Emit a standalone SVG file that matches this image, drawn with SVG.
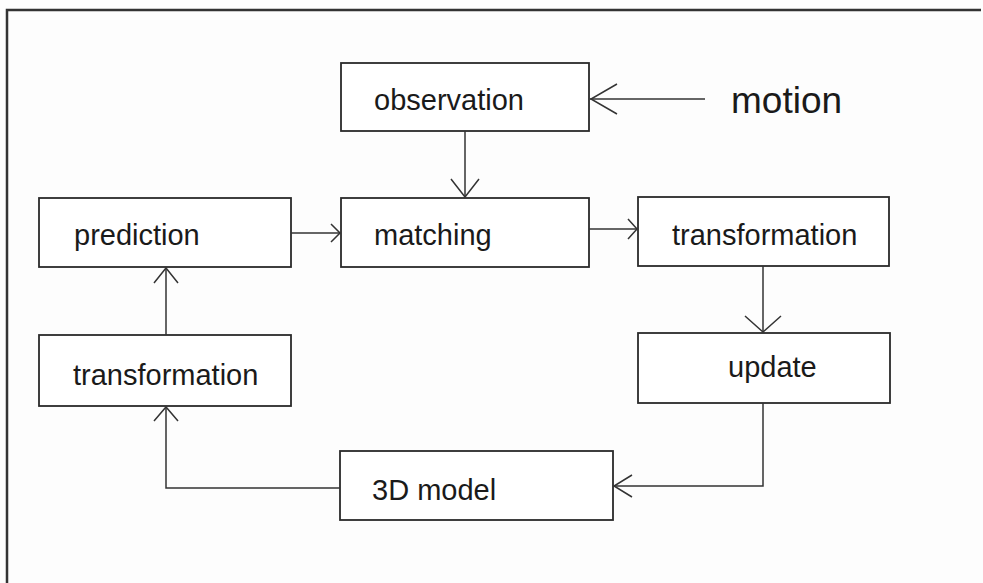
<svg xmlns="http://www.w3.org/2000/svg" width="983" height="583" viewBox="0 0 983 583">
<style>
.box{fill:#fff;stroke:#2a2a2a;stroke-width:1.8}
.lbl{font-family:"Liberation Sans",Arial,sans-serif;font-size:29px;fill:#1a1a1a}
.big{font-size:37px}
.ln{fill:none;stroke:#333;stroke-width:1.5}
.head{fill:none;stroke:#333;stroke-width:1.5;stroke-linejoin:miter}
.frame{fill:none;stroke:#333;stroke-width:2.5}
</style>
<rect x="0" y="0" width="983" height="583" fill="#fdfdfd"/>
<path class="frame" d="M7,583 V10 H981"/>
<g id="observation">
<rect class="box" x="341" y="63" width="248" height="68"/>
<text class="lbl" x="374" y="110">observation</text>
</g>
<g id="motion">
<text class="lbl big" x="731" y="113">motion</text>
</g>
<g id="prediction">
<rect class="box" x="39" y="198" width="252" height="69"/>
<text class="lbl" x="74" y="245">prediction</text>
</g>
<g id="matching">
<rect class="box" x="341" y="198" width="248" height="69"/>
<text class="lbl" x="374" y="245">matching</text>
</g>
<g id="transformation-right">
<rect class="box" x="638" y="197" width="251" height="69"/>
<text class="lbl" x="672" y="245">transformation</text>
</g>
<g id="update">
<rect class="box" x="638" y="333" width="252" height="70"/>
<text class="lbl" x="728" y="377">update</text>
</g>
<g id="transformation-left">
<rect class="box" x="39" y="335" width="252" height="71"/>
<text class="lbl" x="73" y="385">transformation</text>
</g>
<g id="model3d">
<rect class="box" x="340" y="451" width="273" height="69"/>
<text class="lbl" x="372" y="500">3D model</text>
</g>
<g id="connectors">
<line class="ln" x1="705" y1="99" x2="590" y2="99"/>
<polyline class="head" points="617,84 591,99 617,114"/>
<line class="ln" x1="465" y1="131" x2="465" y2="197"/>
<polyline class="head" points="451,179 465,197 479,179"/>
<line class="ln" x1="291" y1="233" x2="340" y2="233"/>
<polyline class="head" points="331,224 340,233 331,242"/>
<line class="ln" x1="589" y1="229" x2="637" y2="229"/>
<polyline class="head" points="628,219 637,229 628,239"/>
<line class="ln" x1="763" y1="266" x2="763" y2="332"/>
<polyline class="head" points="745,316 763,332 781,316"/>
<polyline class="ln" points="763,403 763,486 614,486"/>
<polyline class="head" points="632,475 614,486 632,497"/>
<polyline class="ln" points="340,488 166,488 166,407"/>
<polyline class="head" points="154,421 166,407 178,421"/>
<line class="ln" x1="166" y1="335" x2="166" y2="268"/>
<polyline class="head" points="154,283 166,268 178,283"/>
</g>
</svg>
